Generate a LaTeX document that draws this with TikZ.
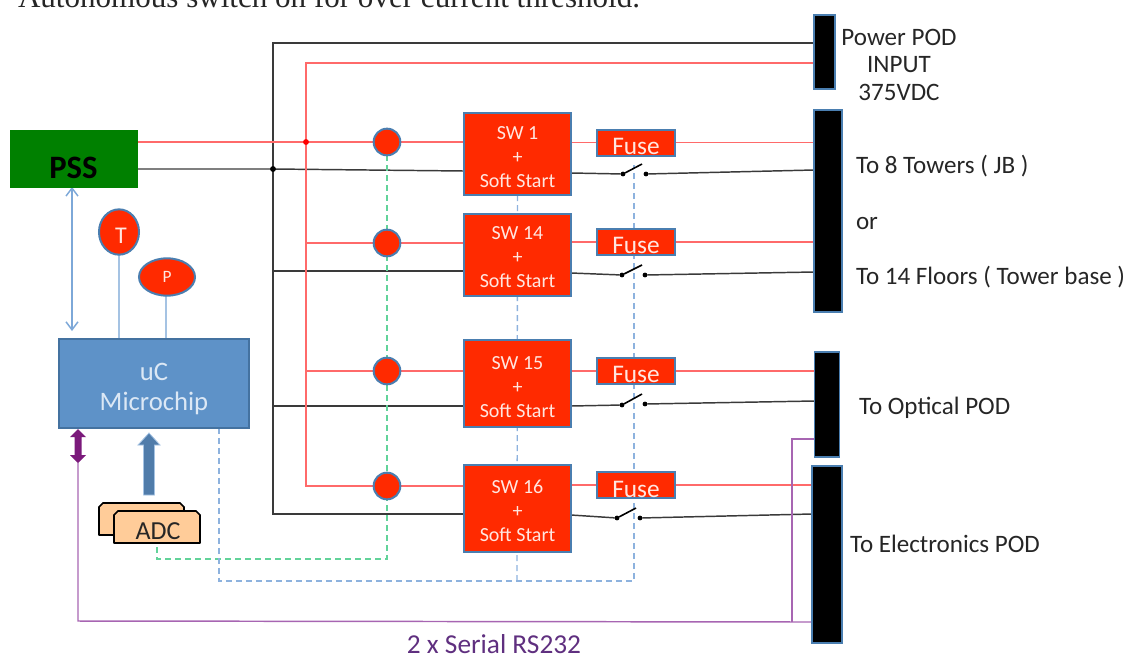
\documentclass[tikz,border=0pt]{standalone}
\usepackage{fontspec}
\setmainfont{Carlito}
\newfontfamily\topfont{Liberation Serif}
\usetikzlibrary{arrows.meta,shapes.geometric}
\pgfdeclarelayer{bg}
\pgfsetlayers{bg,main}
\definecolor{redfill}{HTML}{FF2A00}
\definecolor{edgeblue}{HTML}{4A7EB0}
\definecolor{redline}{HTML}{FF6A6A}
\definecolor{blackline}{HTML}{3A3A3A}
\definecolor{bluedash}{HTML}{8DB2DE}
\definecolor{greendash}{HTML}{62D39A}
\definecolor{purpline}{HTML}{A765B2}
\definecolor{lightblue}{HTML}{A5C3E3}
\definecolor{arrowblue}{HTML}{7DA8D8}
\definecolor{ucfill}{HTML}{5E92C8}
\definecolor{ucedge}{HTML}{4472A0}
\definecolor{softwhite}{HTML}{FFE6E0}
\definecolor{uctext}{HTML}{DCE8F5}
\definecolor{purpfill}{HTML}{7B1A7B}
\definecolor{purptext}{HTML}{5F2F7F}
\definecolor{labeltext}{HTML}{262626}
\definecolor{adcfill}{HTML}{FFCC99}
\definecolor{pssgreen}{HTML}{008000}
\tikzset{
  x=0.75pt,y=-0.75pt,
  every node/.style={inner sep=0pt,outer sep=0pt},
  swbox/.style={draw=edgeblue,line width=1.8pt,fill=redfill,minimum width=80pt},
  swtext/.style={text=softwhite,align=center,font=\fontsize{15}{18}\selectfont},
  fusebox/.style={draw=edgeblue,line width=1.5pt,fill=redfill,minimum width=59pt,minimum height=19.5pt},
  fusetext/.style={text=softwhite,font=\fontsize{19}{20}\selectfont},
  bar/.style={draw=edgeblue,line width=1.2pt,fill=black},
  dot/.style={circle,draw=edgeblue,line width=1.5pt,fill=redfill,minimum size=20pt},
  contact/.style={circle,fill=black,minimum size=3.6pt},
  redw/.style={draw=redline,line width=1.1pt},
  blackw/.style={draw=blackline,line width=1.1pt},
  greenw/.style={draw=greendash,line width=1pt,dash pattern=on 4.5pt off 3pt},
  bluew/.style={draw=bluedash,line width=1pt,dash pattern=on 4.5pt off 3pt},
  purpw/.style={draw=purpline,line width=1.1pt},
  lbl/.style={text=labeltext,font=\fontsize{18.8}{22}\selectfont,anchor=west},
  adcshape/.style={draw=black,line width=1.3pt,fill=adcfill,line join=round},
}
\begin{document}
\begin{tikzpicture}
\useasboundingbox (0,0) rectangle (1127,654);
% top text
\node[anchor=base west,font=\topfont\fontsize{23.3}{26}\selectfont,text=labeltext] (toptext) at (18,7) {Autonomous switch on for over current threshold.};
% PSS
\node[fill=pssgreen,draw=pssgreen,minimum width=95pt,minimum height=42.5pt] (pss) at (73.5,158.5) {};
\node[font=\fontsize{24.5}{26}\selectfont\bfseries] (psslabel) at (73.5,168) {PSS};
% bars
\node[bar,minimum width=15.5pt,minimum height=55.5pt] (bar1) at (824.5,52) {};
\node[bar,minimum width=21pt,minimum height=151.5pt] (bar2) at (828,211) {};
\node[bar,minimum width=19pt,minimum height=79pt] (bar3) at (827,404.5) {};
\node[bar,minimum width=22.5pt,minimum height=132.5pt] (bar4) at (827,554.5) {};
% SW boxes
\node[swbox,minimum height=61.5pt] (sw1) at (517.5,154) {};
\node[swbox,minimum height=61.5pt] (sw14) at (517.5,255) {};
\node[swbox,minimum height=65pt] (sw15) at (517.5,383.5) {};
\node[swbox,minimum height=65pt] (sw16) at (517.5,508.5) {};
\node[swtext] (st1) at (517.5,157) {SW 1\\+\\Soft Start};
\node[swtext] (st14) at (517.5,257) {SW 14\\+\\Soft Start};
\node[swtext] (st15) at (517.5,387) {SW 15\\+\\Soft Start};
\node[swtext] (st16) at (517.5,511) {SW 16\\+\\Soft Start};
% fuses
\node[fusebox] (f1) at (636,142.5) {};
\node[fusebox] (f14) at (636,242) {};
\node[fusebox] (f15) at (636,371) {};
\node[fusebox] (f16) at (636,485) {};
\node[fusetext] (ft1) at (636,146) {Fuse};
\node[fusetext] (ft14) at (636,245) {Fuse};
\node[fusetext] (ft15) at (636,374) {Fuse};
\node[fusetext] (ft16) at (636,489) {Fuse};
% sense dots
\node[dot] (d1) at (387,142) {};
\node[dot] (d14) at (387,243) {};
\node[dot] (d15) at (387,371) {};
\node[dot] (d16) at (387,486) {};
% uC
\node[draw=ucedge,line width=1.3pt,fill=ucfill,minimum width=142pt,minimum height=66.5pt] (uc) at (154,383.5) {};
\node[text=uctext,align=center,font=\fontsize{20}{23}\selectfont] (uctxt) at (154,389) {uC\\Microchip};
% sensors
\node[ellipse,draw=edgeblue,line width=1.5pt,fill=redfill,minimum width=30pt,minimum height=34pt] (T) at (119,232) {};
\node[text=softwhite,font=\fontsize{18}{20}\selectfont] (Ttxt) at (121,236) {T};
\node[ellipse,draw=edgeblue,line width=1.5pt,fill=redfill,text=softwhite,minimum width=42pt,minimum height=28pt,font=\fontsize{13}{14}\selectfont] (P) at (167,277) {P};
% ADC
\filldraw[adcshape] (99,535) -- (99,507) -- (103,503) -- (180,503) -- (184,507) -- (184,535) -- cycle;
\filldraw[adcshape] (114,543) -- (114,515) -- (118,511) -- (196,511) -- (200,515) -- (200,543) -- cycle;
\node[font=\fontsize{19.5}{22}\selectfont,text=labeltext] (adc) at (158,531) {ADC};
\coordinate (adcout) at (157,545);
% thick arrows
\filldraw[fill=ucfill!85!black,draw=lightblue,line width=0.6pt] (143.5,495) -- (143.5,445) -- (138,445) -- (149,433) -- (160,445) -- (154.5,445) -- (154.5,495) -- cycle;
\fill[purpfill] (78,429) -- (86,437) -- (81.5,437) -- (81.5,455) -- (86,455) -- (78,463) -- (70,455) -- (74.5,455) -- (74.5,437) -- (70,437) -- cycle;
% switches
\coordinate (s1a) at (623,174); \coordinate (s1b) at (642,164);
\coordinate (s14a) at (622,275); \coordinate (s14b) at (642,265);
\coordinate (s15a) at (622,405); \coordinate (s15b) at (642,394);
\coordinate (s16a) at (617,518); \coordinate (s16b) at (636,508);
\node[contact] (c1a) at (s1a) {}; \node[contact] (c1b) at (646,174) {};
\node[contact] (c14a) at (s14a) {}; \node[contact] (c14b) at (645,275) {};
\node[contact] (c15a) at (s15a) {}; \node[contact] (c15b) at (645,404) {};
\node[contact] (c16a) at (s16a) {}; \node[contact] (c16b) at (640,518) {};
\draw[black,line width=1.2pt] (c1a) -- (s1b) (c14a) -- (s14b) (c15a) -- (s15b) (c16a) -- (s16b);
% junction dots
\coordinate (jr) at (306,142);
\coordinate (jb) at (273,169);
\fill[red] (jr) circle (2.2pt);
\fill[black] (jb) circle (2.2pt);
% labels
\node[lbl,anchor=center] (l1) at (899,37) {Power POD};
\node[lbl,anchor=center] (l2) at (899,65) {INPUT};
\node[lbl,anchor=center] (l3) at (899,92) {375VDC};
\node[lbl] (l4) at (856,166) {To 8 Towers ( JB )};
\node[lbl] (l5) at (856,223) {or};
\node[lbl] (l6) at (856,277) {To 14 Floors ( Tower base )};
\node[lbl] (l7) at (859,408) {To Optical POD};
\node[lbl] (l8) at (850,544) {To Electronics POD};
\node[text=purptext,font=\fontsize{20.5}{22}\selectfont,anchor=base] (l9) at (494,653) {2 x Serial RS232};
\begin{pgfonlayer}{bg}
% free corners
\coordinate (bt) at (273,43);
\coordinate (bb) at (273,514);
\coordinate (rt) at (306,63);
\coordinate (rb) at (306,486);
% black feeds
\draw[blackw] (bar1.west|-bt) -- (bt) -- (bb) -- (sw16.west|-bb);
\draw[blackw] (pss.east|-jb) -- (jb) -- (464,171);
\draw[blackw] (273,271) -- (464,271);
\draw[blackw] (273,406) -- (464,406);
\draw[blackw] (571,173) -- (c1a);
\draw[blackw] (c1b) -- (bar2.west|-0,170);
\draw[blackw] (571,273) -- (c14a);
\draw[blackw] (c14b) -- (bar2.west|-0,272);
\draw[blackw] (571,406) -- (c15a);
\draw[blackw] (c15b) -- (bar3.west|-0,401);
\draw[blackw] (571,515) -- (c16a);
\draw[blackw] (c16b) -- (bar4.west|-0,514);
% red feeds
\draw[redw] (bar1.west|-rt) -- (rt) -- (rb) -- (d16);
\draw[redw] (pss.east|-d1) -- (d1) -- (sw1.west|-d1);
\draw[redw] (306,243) -- (d14) -- (sw14.west|-d14);
\draw[redw] (306,371) -- (d15) -- (sw15.west|-d15);
\draw[redw] (d16) -- (sw16.west|-d16);
\draw[redw] (sw1.east|-f1) -- (f1) -- (bar2.west|-f1);
\draw[redw] (sw14.east|-f14) -- (f14) -- (bar2.west|-f14);
\draw[redw] (sw15.east|-f15) -- (f15) -- (bar3.west|-f15);
\draw[redw] (sw16.east|-f16) -- (f16) -- (bar4.west|-f16);
% green dashed
\draw[greenw] (d1) -- (387,559) -- (157,559) -- (adcout);
% blue dashed
\draw[bluew] (uc.south-|219,0) -- (219,581) -- (634,581) -- (634,165);
\draw[bluew] (sw1.south) -- (517,581);
% sensor stems
\draw[draw=lightblue,line width=1.2pt] (T.south) -- (T.south|-uc.north);
\draw[draw=lightblue,line width=1.2pt] (P.south-|166,0) -- (166,339);
\draw[draw=arrowblue,line width=1.1pt,{Straight Barb[length=6pt,width=9pt]}-{Straight Barb[length=6pt,width=9pt]}] (pss.south-|72,0) -- (72,331);
% purple
\draw[purpw] (78,463) -- (78,621) -- (bar4.west|-0,622);
\draw[purpw] (792,622) -- (792,439) -- (bar3.west|-0,439);
\end{pgfonlayer}
\end{tikzpicture}
\end{document}
